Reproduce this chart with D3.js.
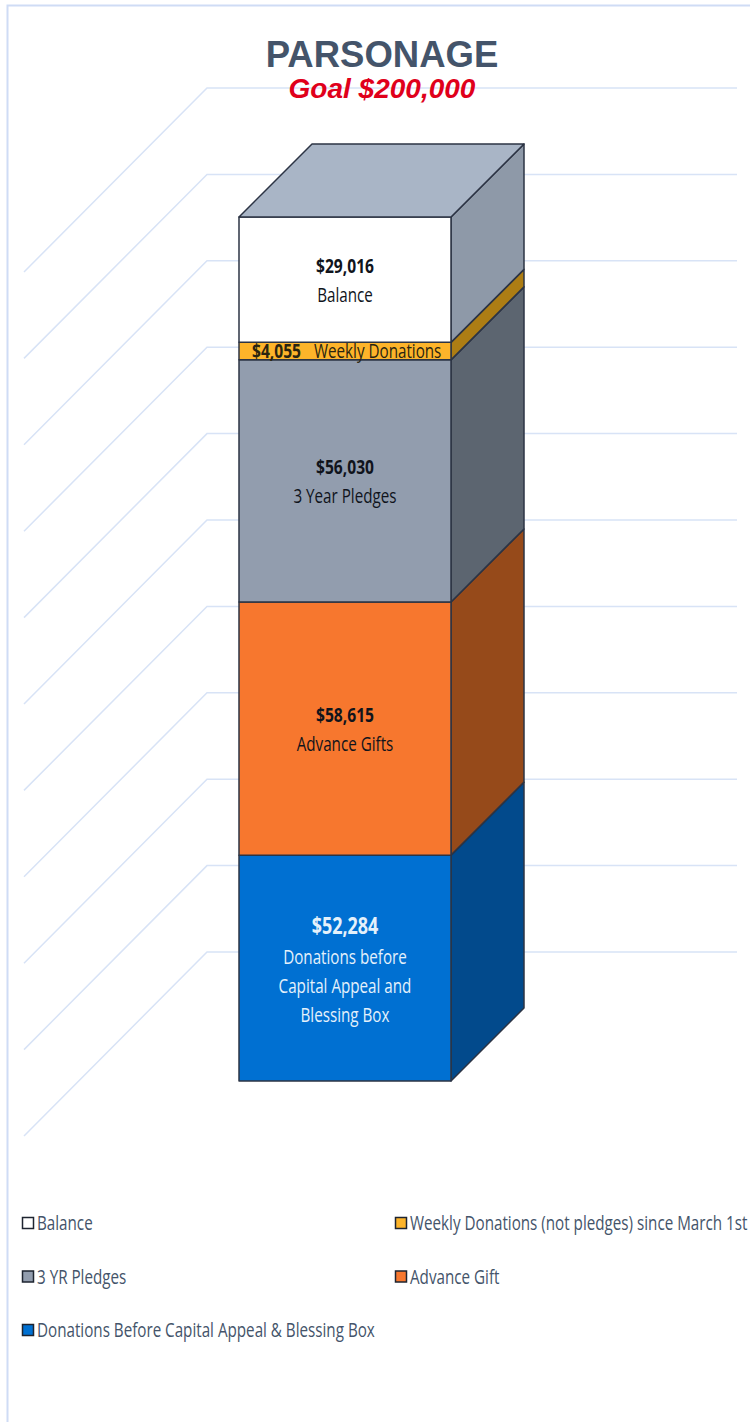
<!DOCTYPE html>
<html>
<head>
<meta charset="utf-8">
<script src="https://d3js.org/d3.v7.min.js"></script>
<style>
html, body { margin: 0; padding: 0; background: #fff; }
svg { display: block; }
</style>
</head>
<body>
<div id="chart"></div>
<script>
// bottom to top, same order as the column
var categories = ["Donations", "Advance", "Pledges", "Weekly", "Balance"];
var values = [52284, 58615, 56030, 4055, 29016];
var valueLabels = ["$52,284", "$58,615", "$56,030", "$4,055", "$29,016"];
var barLabels = [
  ["Donations before", "Capital Appeal and", "Blessing Box"],
  ["Advance Gifts"],
  ["3 Year Pledges"],
  ["Weekly Donations"],
  ["Balance"]
];
var legendNames = ["Balance", "Weekly Donations (not pledges) since March 1st", "3 YR Pledges", "Advance Gift", "Donations Before Capital Appeal & Blessing Box"];
var legendKeys = ["Balance", "Weekly", "Pledges", "Advance", "Donations"];

var frontColor = d3.scaleOrdinal().domain(categories).range(["#0070d2", "#f7772e", "#929dae", "#fdb42a", "#ffffff"]);
var sideColor = d3.scaleOrdinal().domain(categories).range(["#024a8c", "#964a1a", "#5c6570", "#ad7d14", "#8e99a8"]);
var labelColor = d3.scaleOrdinal().domain(categories).range(["#e4f1fb", "#10141c", "#10141c", "#2a2410", "#10141c"]);

var width = 750, height = 1422;
var svg = d3.select("#chart").append("svg").attr("width", width).attr("height", height);

var y = d3.scaleLinear().domain([0, 200000]).range([1081, 217]);
var wallLift = 129, floorDepth = 184, barDepth = 73;
var barLeft = 239, barRight = 451, barMid = 345;
var wallLeft = 207, wallRight = 737;

// page frame
svg.append("path").attr("d", "M7.5,1422V5.5H750").attr("fill", "none").attr("stroke", "#cfdcf5").attr("stroke-width", 2);

// grid on the back wall and the floor
var grid = svg.append("g").attr("fill", "none").attr("stroke", "#d8e3f6").attr("stroke-width", 1.5);
grid.selectAll("path").data(y.ticks(10)).enter().append("path")
  .attr("d", function(d) {
    var gy = y(d) - wallLift;
    return "M" + (wallLeft - floorDepth + 1) + "," + (gy + floorDepth) + "L" + wallLeft + "," + gy + "H" + wallRight;
  });

svg.append("text").attr("x", 382).attr("y", 67).attr("text-anchor", "middle")
  .style("font-family", "Liberation Sans").style("font-weight", "bold").style("font-size", "36.5px").style("fill", "#44546a")
  .text("PARSONAGE");
svg.append("text").attr("x", 382).attr("y", 98).attr("text-anchor", "middle")
  .style("font-family", "Liberation Sans").style("font-weight", "bold").style("font-style", "italic").style("font-size", "28px").style("fill", "#e0001b")
  .text("Goal $200,000");

// column segments
var rows = [{}];
categories.forEach(function(c, i) { rows[0][c] = values[i]; });
var series = d3.stack().keys(categories)(rows);

var edge = "#2c3444";
var col = svg.append("g").attr("stroke", edge).attr("stroke-width", 1.5).attr("stroke-linejoin", "round");

col.selectAll("path.side").data(series).enter().append("path").attr("class", "side")
  .attr("fill", function(d) { return sideColor(d.key); })
  .attr("d", function(d) {
    var y0 = y(d[0][0]), y1 = y(d[0][1]);
    return "M" + barRight + "," + y0 + "L" + (barRight + barDepth) + "," + (y0 - barDepth) +
      "V" + (y1 - barDepth) + "L" + barRight + "," + y1 + "Z";
  });

col.selectAll("rect").data(series).enter().append("rect")
  .attr("x", barLeft).attr("width", barRight - barLeft)
  .attr("y", function(d) { return y(d[0][1]); })
  .attr("height", function(d) { return y(d[0][0]) - y(d[0][1]); })
  .attr("fill", function(d) { return frontColor(d.key); });

var topY = y(d3.sum(values));
col.append("path").attr("fill", "#a9b5c6")
  .attr("d", "M" + barLeft + "," + topY + "L" + (barLeft + barDepth) + "," + (topY - barDepth) +
    "H" + (barRight + barDepth) + "L" + barRight + "," + topY + "Z");

// labels in the narrow face, squeezed sideways like the original
function label(x, yy, txt, size, bold, color, anchor) {
  svg.append("text").attr("transform", "translate(" + x + "," + yy + ") scale(0.78,1)")
    .attr("text-anchor", anchor || "middle")
    .style("font-family", "Open Sans").style("font-size", size + "px")
    .style("font-weight", bold ? "bold" : "normal").style("fill", color)
    .text(txt);
}

series.forEach(function(d, i) {
  var mid = (y(d[0][0]) + y(d[0][1])) / 2;
  var color = labelColor(d.key);
  if (d.key === "Weekly") {
    label(252, mid + 7, valueLabels[i], 20, true, color, "start");
    label(314, mid + 7, barLabels[i][0], 19.5, false, color, "start");
    return;
  }
  var lines = barLabels[i].length + 1;
  var lh = 29;
  var first = mid - (lines - 1) * lh / 2 + (d.key === "Donations" ? 9 : 8);
  label(barMid, first, valueLabels[i], d.key === "Donations" ? 23 : 20, true, color);
  barLabels[i].forEach(function(t, j) {
    label(barMid, first + (j + 1) * lh + (d.key === "Donations" ? 1 : 0), t, 19.5, false, color);
  });
});

// legend, two columns
var legendX = d3.scalePoint().domain([0, 1]).range([22, 395]);
var legendY = d3.scalePoint().domain([0, 1, 2]).range([1223, 1330]);
legendNames.forEach(function(name, i) {
  var lx = legendX(i % 2), ly = legendY(Math.floor(i / 2));
  svg.append("rect").attr("x", lx + 0.5).attr("y", ly - 5.5).attr("width", 11).attr("height", 11)
    .attr("fill", frontColor(legendKeys[i])).attr("stroke", "#1e2430").attr("stroke-width", 1.5);
  label(lx + 15, ly + 7, name, 19.5, false, "#44546a", "start");
});
</script>
</body>
</html>
